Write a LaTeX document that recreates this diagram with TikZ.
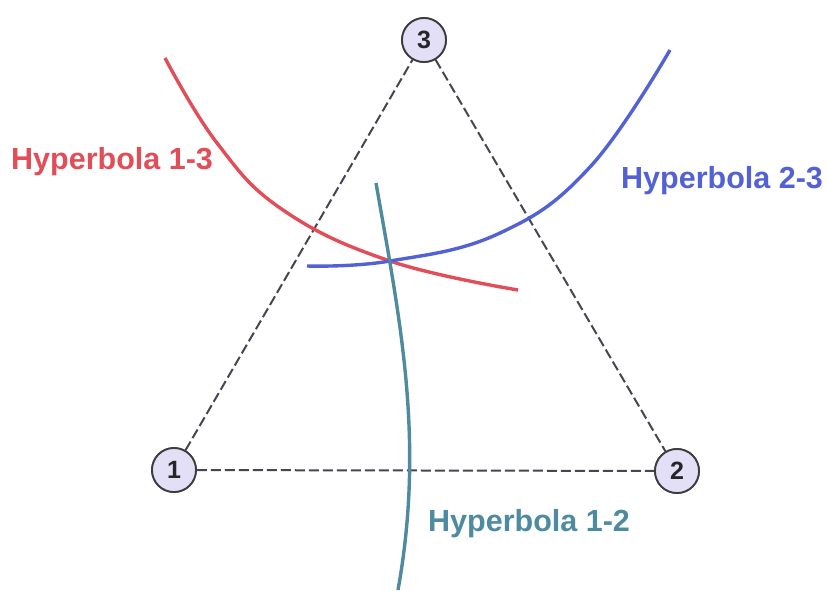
\documentclass[tikz,border=0pt]{standalone}
\usepackage{fontspec}
\setmainfont{Liberation Sans}
\definecolor{hred}{RGB}{226,78,88}
\definecolor{hblue}{RGB}{82,98,212}
\definecolor{hteal}{RGB}{78,138,160}
\definecolor{nodefill}{RGB}{226,223,246}
\definecolor{nodeline}{RGB}{60,60,60}
\definecolor{dashcol}{RGB}{70,70,80}
\tikzset{
  station/.style={circle, draw=nodeline, line width=1.8pt, fill=nodefill, minimum size=44pt, inner sep=0pt, font=\fontsize{25}{25}\selectfont\bfseries, text=black!85},
  baseline/.style={draw=dashcol, line width=2pt, dash pattern=on 10pt off 4pt},
  hyper/.style={line width=3.4pt},
  hlabel/.style={font=\fontsize{30.5}{30.5}\selectfont\bfseries, inner sep=0pt}
}
\begin{document}
\begin{tikzpicture}[x=1pt,y=-1pt]
\useasboundingbox (0,0) rectangle (828,590);
\fill[white] (0,0) rectangle (828,590);
\node[station] (s3) at (424,40) {3};
\node[station] (s1) at (174,470) {1};
\node[station] (s2) at (677,471) {2};
\draw[baseline] (s1) -- (s3);
\draw[baseline] (s3) -- (s2);
\draw[baseline] (s1) -- (s2);
% hyperbolas
\draw[hyper, hred] plot[smooth, tension=0.7] coordinates {(165,58) (217,143) (283,210) (390,261) (518,290)};
\draw[hyper, hblue] plot[smooth, tension=0.7] coordinates {(307,266) (390,261) (500,233) (590,167) (670,50)};
\draw[hyper, hteal] (376,183) .. controls (400,320) and (425,440) .. (398,590);
% stations on top
\node[station] at (s3) {3};
\node[station] at (s1) {1};
\node[station] at (s2) {2};
% labels
\node[hlabel, text=hred, anchor=west] (l13) at (11,162) {Hyperbola 1-3};
\node[hlabel, text=hblue, anchor=west] (l23) at (621,181) {Hyperbola 2-3};
\node[hlabel, text=hteal, anchor=west] (l12) at (428,524) {Hyperbola 1-2};
\end{tikzpicture}
\end{document}
